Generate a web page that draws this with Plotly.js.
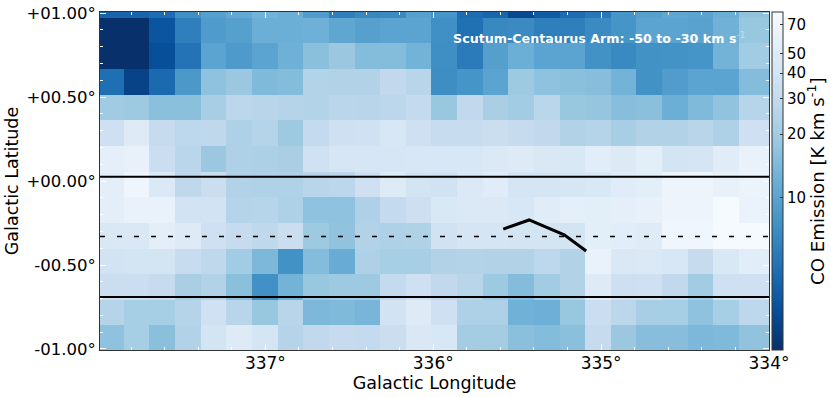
<!DOCTYPE html>
<html>
<head>
<meta charset="utf-8">
<script src="https://cdn.plot.ly/plotly-3.0.1.min.js"></script>
<style>html,body{margin:0;padding:0;background:#fff}</style>
</head>
<body>
<div id="chart" style="width:831px;height:397px"></div>
<script>
// Cell centres, degrees
const longitudes = [337.919,337.766,337.614,337.461,337.308,337.156,337.003,336.850,336.697,336.545,336.392,336.239,336.087,335.934,335.781,335.629,335.476,335.323,335.170,335.018,334.865,334.712,334.559,334.406,334.254,334.101,333.948];
const latitudes = [1.048,0.895,0.743,0.590,0.437,0.285,0.132,-0.021,-0.174,-0.326,-0.479,-0.632,-0.785,-0.937];

// CO emission in K km/s, top row first
const emission = [
  [4.3,4.3,4.8,7.5,9.5,11,13,12,9,6,6.8,7,9.5,8,4.8,4.4,3.2,3.9,4.8,5.5,8,9.5,10.5,10,12,17,17],
  [2.5,2.5,3.6,6,8.8,9.5,12,12,12.3,10.5,9.6,10,10,7.5,5,6.8,7,6,6,7,8,10,10,9.8,12.5,18,18],
  [2.5,2.5,3.4,5.2,10,8.7,10,12.3,16,18.5,15,15,13,7.4,5.7,9.4,12,10,10,7.7,6.9,7.7,7.8,8,13,20,20],
  [4.9,3,4.6,8.4,16.5,18.5,14.5,15,24.5,24,24,29,26,7.3,8,10,19,16.5,16,15.5,13,7.7,9,10,10,15,15],
  [19.5,19,16,16,21.5,27,26,25,24.5,26.5,26,27,30,18,29,22,20,26.5,18,17.5,15.5,16,12,14.5,17,25.5,25.5],
  [36,50,31,27.5,28,23,25,19,30,36,37,44,36,32,32,33,31,29,24,25,21.5,24,24,26,23,36,36],
  [56,60,34,26.5,18.5,23,22.5,22,37,43,43,43,44,44,44,47,50,46,45,53,48,54,40,42,52,62,62],
  [55,68,47,28,33,24,23.5,23.5,26,27,36,49,40,38,47,52,42,42,43,45,52,54,66,66,60,64,64],
  [55,62,61,39,39,25,25.5,23,16.5,16.5,23,30,35,45,47,47,44,52,56,54,56,60,66,66,78,63,63],
  [45,46,55,50,36,31,28,33,19,17,24,23,23.5,38,41,41,40,40,40,54,53,51,70,70,78,78,78],
  [39,40,40,32,28,20,14,7.7,15,11.5,23,21,21.5,24,24.5,24,24,27.5,24,61,46,47,44,31,45,53,53],
  [33,34,31,22,24,16,7.6,13,18,19,19,30,36,29,26,19,15,20,24,50,35,36,29,20,36,36,36],
  [25,21,21,25,37,26,18,26,14,14.5,13.5,39,50,36,23,23,12.5,12.2,18,34,27,21.5,21,16.5,21,27.5,27.5],
  [16.5,21,16,24,40,50,42,25,29,31,30,33,46,44,20.5,20.5,16,15,16,31,18.5,15.5,15.5,14,14.5,17,17]
];

// Thick black track near the centre of the map
const trackLon = [335.583,335.429,335.22,335.089];
const trackLat = [-0.286,-0.232,-0.32,-0.417];

const boundaryLon = [337.985,334.0];
const upperLat = [0.025,0.025];
const middleLat = [-0.33,-0.33];
const lowerLat = [-0.69,-0.69];

const cbarTicks = [10,20,30,40,50,70];
const cmin = 2.5;
const cmax = 81;

// matplotlib Blues reversed
const bluesR = [
  [0,'#08306b'],[0.125,'#08519c'],[0.25,'#2171b5'],[0.375,'#4292c6'],[0.5,'#6baed6'],
  [0.625,'#9ecae1'],[0.75,'#c6dbef'],[0.875,'#deebf7'],[1,'#f7fbff']
];

// log stretch with a small offset, matches the spacing on the colorbar
const stretch = v => Math.log10(v - 1);

const FONT = 'DejaVu Sans, sans-serif';

const heat = {
  type: 'heatmap',
  x: longitudes,
  y: latitudes,
  z: emission.map(r => r.map(stretch)),
  zmin: stretch(cmin),
  zmax: stretch(cmax),
  colorscale: bluesR,
  zsmooth: false,
  hoverinfo: 'skip',
  colorbar: {
    xref: 'container', x: 772 / 831, xanchor: 'left', xpad: 0,
    y: 0.5, yanchor: 'middle', ypad: 0,
    len: 1, lenmode: 'fraction',
    thickness: 11, thicknessmode: 'pixels',
    outlinewidth: 1, outlinecolor: '#333',
    tickmode: 'array',
    tickvals: cbarTicks.map(stretch),
    ticktext: cbarTicks.map(String),
    ticks: 'inside', ticklen: 3, tickcolor: '#333',
    tickfont: { family: FONT, size: 15, color: '#000' }
  }
};

const line = (x, y, dash, width) => ({
  type: 'scatter', mode: 'lines', x, y, hoverinfo: 'skip', showlegend: false,
  line: { color: '#000', width, dash }
});

const traces = [
  heat,
  line(boundaryLon, upperLat, 'solid', 2),
  line(boundaryLon, middleLat, '5px,12px', 1.5),
  line(boundaryLon, lowerLat, 'solid', 2),
  line(trackLon, trackLat, 'solid', 3)
];

const layout = {
  width: 831,
  height: 397,
  margin: { l: 100, r: 62, t: 12, b: 47 },
  paper_bgcolor: '#fff',
  plot_bgcolor: '#fff',
  font: { family: FONT, size: 17, color: '#000' },
  showlegend: false,
  xaxis: {
    range: [337.985, 334.0],
    tickmode: 'array',
    tickvals: [337,336,335,334],
    ticktext: ['337°','336°','335°','334°'],
    tickfont: { size: 17 },
    ticklabelstandoff: -2,
    ticks: 'inside', ticklen: 6, tickcolor: '#fff', tickwidth: 1,
    minor: { dtick: 0.2, ticks: 'inside', ticklen: 3, tickcolor: '#fff' },
    showgrid: false, zeroline: false,
    showline: true, linecolor: '#333', linewidth: 1, mirror: 'ticks',
    title: { text: 'Galactic Longitude', font: { size: 17.5 }, standoff: 2 }
  },
  yaxis: {
    range: [-1.006, 1.006],
    tickmode: 'array',
    tickvals: [1,0.5,0,-0.5,-1],
    ticktext: ['+01.00°','+00.50°','+00.00°','-00.50°','-01.00°'],
    tickfont: { size: 16.5 },
    ticks: 'inside', ticklen: 6, tickcolor: '#fff', tickwidth: 1,
    minor: { dtick: 0.1, ticks: 'inside', ticklen: 3, tickcolor: '#fff' },
    showgrid: false, zeroline: false,
    showline: true, linecolor: '#333', linewidth: 1, mirror: 'ticks',
    title: { text: 'Galactic Latitude', font: { size: 17.5 }, standoff: 3 }
  },
  annotations: [{
    text: '<b>Scutum-Centaurus Arm: -50 to -30 km s</b><sup><span style="color:rgba(255,255,255,0.45)">-1</span></sup>',
    xref: 'paper', yref: 'paper',
    x: (451 - 100) / 669, y: 1 - (38 - 12) / 338, xanchor: 'left', yanchor: 'middle',
    showarrow: false,
    font: { family: FONT, size: 12.7, color: '#fff' }
  }, {
    // colorbar title, placed by hand so it sits at the same offset as the reference
    text: 'CO Emission [K km s<sup>-1</sup>]',
    xref: 'paper', yref: 'paper',
    x: (816 - 100) / 669, y: 1 - (181 - 12) / 338, xanchor: 'center', yanchor: 'middle',
    textangle: -90, showarrow: false,
    font: { family: FONT, size: 18.2, color: '#000' }
  }]
};

Plotly.newPlot('chart', traces, layout, { displayModeBar: false, staticPlot: true });
</script>
</body>
</html>
